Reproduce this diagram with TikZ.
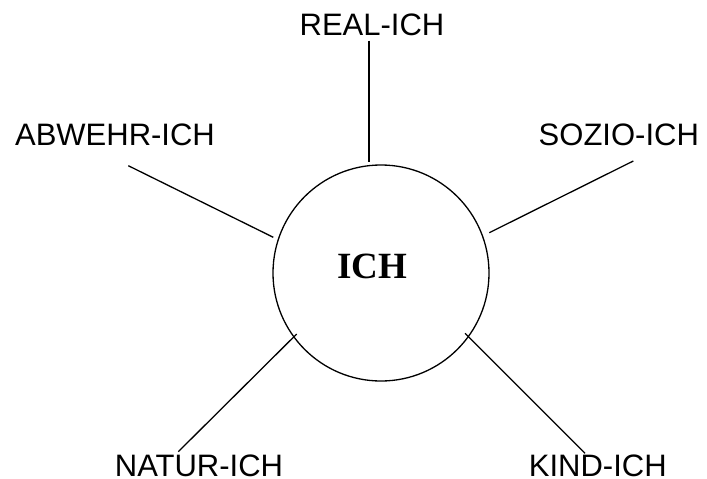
\documentclass[tikz,border=0pt]{standalone}
\usepackage{fontspec}
\setmainfont{Liberation Serif}
\newfontfamily\arialfont{Liberation Sans}
\begin{document}
\begin{tikzpicture}[x=1pt,y=-1pt,
  lbl/.style={font=\arialfont\fontsize{31}{31}\selectfont, anchor=base, inner sep=0pt},
  conn/.style={line width=1.3pt, black}]
\useasboundingbox (0,0) rectangle (707,479);
\node[draw, circle, line width=1.3pt, minimum size=216pt, inner sep=0pt] (ich) at (381,273) {};
\node[font=\bfseries\fontsize{37}{37}\selectfont, anchor=base, inner sep=0pt] (ichtext) at (372.5,278) {ICH};
\node[lbl] (real) at (372,35) {REAL-ICH};
\node[lbl] (abwehr) at (115,145.5) {ABWEHR-ICH};
\node[lbl] (sozio) at (618.8,145.5) {SOZIO-ICH};
\node[lbl] (natur) at (199,476.5) {NATUR-ICH};
\node[lbl] (kind) at (597.8,476.5) {KIND-ICH};
\coordinate (r1) at (369,40.7);  \coordinate (r2) at (369,161.7);
\coordinate (a1) at (128.3,165.7); \coordinate (a2) at (273.3,237.3);
\coordinate (s1) at (633.3,161); \coordinate (s2) at (489.3,232.7);
\coordinate (n1) at (178.3,451.7); \coordinate (n2) at (296.7,334);
\coordinate (k1) at (585,453.3); \coordinate (k2) at (465,333.3);
\draw[conn] (r1) -- (r2);
\draw[conn] (a1) -- (a2);
\draw[conn] (s1) -- (s2);
\draw[conn] (n1) -- (n2);
\draw[conn] (k1) -- (k2);
\end{tikzpicture}
\end{document}
